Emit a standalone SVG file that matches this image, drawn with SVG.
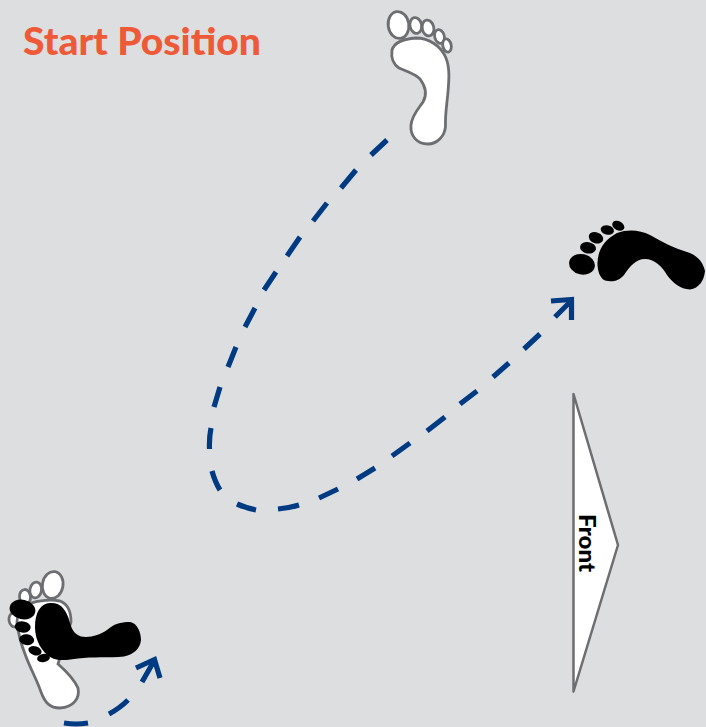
<svg xmlns="http://www.w3.org/2000/svg" width="706" height="727" viewBox="0 0 706 727">
<style>
.w{fill:#fff;stroke:#6d6e71;stroke-width:2.8}
.b{fill:#000;stroke:none}
.c{fill:none;stroke:#003a82;stroke-width:5.2}
.t{font-family:Lato,"Liberation Sans",sans-serif;font-weight:900}
</style>
<rect width="706" height="727" fill="#dddee0"/>
<g id="title"><text class="t" x="23" y="55" font-size="37.5" fill="#ee5a38" textLength="238" lengthAdjust="spacingAndGlyphs">Start Position</text></g>
<g id="foot-start-white">
<ellipse class="w" cx="398.500" cy="25" rx="10.300" ry="13.500" transform="rotate(-8 398.500 25)"/>
<ellipse class="w" cx="415.800" cy="25.500" rx="5.800" ry="8" transform="rotate(-12 415.800 25.500)"/>
<ellipse class="w" cx="428" cy="28" rx="5.800" ry="8" transform="rotate(-12 428 28)"/>
<ellipse class="w" cx="439.500" cy="36.500" rx="4.800" ry="7" transform="rotate(-15 439.500 36.500)"/>
<ellipse class="w" cx="447" cy="45.500" rx="4.200" ry="6.800" transform="rotate(-12 447 45.500)"/>
<path class="w" d="M392 50C394 43 402 39 416 38C429 38 441 46 446 58C450 68 449 80 448 92C447 103 445 115 445.500 126C445 137 436 144 428 144C417 144 410 136 411 125C412 115 419 108 423 102C427 95 426 87 420 79C414 73 405 71 399 68C393 64 391 57 392 50Z"/>
</g>
<g id="foot-end-black">
<ellipse class="b" cx="582" cy="264.300" rx="13" ry="10.200" transform="rotate(12 582 264.300)"/>
<ellipse class="b" cx="588" cy="247.800" rx="8" ry="5.700" transform="rotate(10 588 247.800)"/>
<ellipse class="b" cx="596" cy="237.800" rx="7.500" ry="5.500" transform="rotate(20 596 237.800)"/>
<ellipse class="b" cx="607.300" cy="230" rx="6.700" ry="4.700" transform="rotate(12 607.300 230)"/>
<ellipse class="b" cx="618.300" cy="225.800" rx="6.500" ry="4.500" transform="rotate(28 618.300 225.800)"/>
<path class="b" d="M597.500 265C597 251 604 240 617 233C628 229 640 230 650 235C662 242 674 248 687 252C697 255 703 262 705 271C704 281 699 288 690 289.500C680 289 673 283 667 275C662 266 654 259 645 259C636 259 630 266 624 275C619 281 612 282.500 605 280.500C600 278 598 272 597.500 265Z"/>
</g>
<g id="foot-start-pair">
<ellipse class="w" cx="52.700" cy="585" rx="10.300" ry="13.500" transform="rotate(10 52.700 585)"/>
<ellipse class="w" cx="35.700" cy="590" rx="5.800" ry="8" transform="rotate(10 35.700 590)"/>
<ellipse class="w" cx="25" cy="597" rx="5.500" ry="7.500" transform="rotate(-5 25 597)"/>
<ellipse class="w" cx="14" cy="620" rx="5" ry="7" transform="rotate(-10 14 620)"/>
<path class="w" d="M25 606C33 601 48 599 60 601C68 604 71 612 71 622L58 664C66 671 74 679 78 688C80 698 74 707 60 708C50 708 45 703 41 692C37 680 30 668 25 654C21 644 18 632 17 622C17 615 20 610 25 606Z"/>
<ellipse class="b" cx="22.500" cy="609.500" rx="13" ry="9.800" transform="rotate(12 22.500 609.500)"/>
<ellipse class="b" cx="22.700" cy="627" rx="8" ry="5.600" transform="rotate(8 22.700 627)"/>
<ellipse class="b" cx="26.700" cy="639.700" rx="7.500" ry="5.400" transform="rotate(8 26.700 639.700)"/>
<ellipse class="b" cx="35" cy="650.700" rx="6.800" ry="4.500" transform="rotate(18 35 650.700)"/>
<ellipse class="b" cx="43.500" cy="658" rx="6.500" ry="4.200" transform="rotate(-12 43.500 658)"/>
<path class="b" d="M35 627C35 612 41 603 50 603C59 602 65 608 68.500 618C71 627 73 634 81 636.500C90 638 100 635 107 630C114 624 120 622 130 622C137 623 141 632 141 640C140 649 134 654 124 656.500C110 658 92 656.500 78 658.500C68 660 58 661.500 51 657.500C42 652 35 641 35 627Z"/>
</g>
<g id="front-marker">
<path class="w" stroke-linejoin="round" style="stroke-width:2.500" d="M573.500 394L618 545L573.500 691.500Z"/>
<text class="t" transform="translate(579 514) rotate(90)" font-size="22" fill="#000" textLength="58" lengthAdjust="spacingAndGlyphs">Front</text>
</g>
<g id="connectors">
<path class="c" d="M387 140L371 155M356 170L341 188M327 203L313 221M300 237L287 256M276 272L264 290M255 308L245 327M236 347L228 367M220 387L214 407M211 428Q209 438 209.500 449M212 471Q215 482 220 490M237 504Q246 508 256 510M278 509Q289 508 299 505M319 498L338 489M357 479L375 468M392 456L410 443M427 431L445 417M460 404L477 391M493 377L509 363M524 349L540 334M555 317L570 302"/>
<path class="c" d="M551 301L571.500 299.500L571.500 320"/>
<path class="c" d="M64 723Q76 725 88 723M109 714Q120 708 128 700M142 682L154 661"/>
<path class="c" d="M136 668L154.500 659.500L160 678"/>
</g>
</svg>
